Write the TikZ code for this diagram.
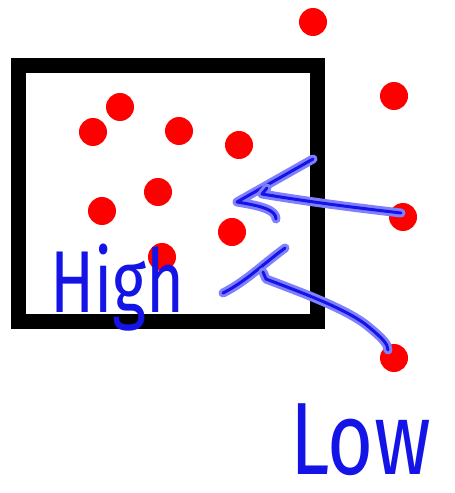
\documentclass[tikz,border=0pt]{standalone}
\usepackage{fontspec}
\newfontfamily\handfont{Fira Sans}
\usetikzlibrary{positioning}
\definecolor{pointred}{HTML}{FF0000}
\definecolor{penblue}{HTML}{1414E6}
\definecolor{penglow}{HTML}{8080FF}
\tikzset{
  point/.style={
    circle,
    fill=pointred,
    inner sep=0pt,
    minimum size=0.56cm
  },
  pen/.style={
    draw=penblue,
    line width=0.06cm,
    line cap=round,
    line join=round,
    preaction={draw=penglow,line width=0.18cm,line cap=round,line join=round}
  },
  frame/.style={draw=black,line width=0.3cm},
  handtext/.style={text=penblue,inner sep=0pt,anchor=base west,transform shape}
}

\begin{document}
\begin{tikzpicture}[x=0.02cm,y=-0.02cm]
\useasboundingbox (0,0) rectangle (455,493);
% sampling box
\draw[frame] (18.5,65.5) rectangle (317.5,321.5);
% points inside the box
\foreach \px/\py in {120/107,93/132,179/131,239/145,158/192,102/211,232/232,162/257}
  \node[point] at (\px,\py) {};
% points outside the box
\node[point] (outTop) at (313,22) {};
\node[point] (outUpper) at (394,96) {};
\node[point] (outMid) at (403,217) {};
\node[point] (outLow) at (394,358) {};
% labels
\node[handtext,font=\handfont\fontsize{50}{50}\selectfont,xscale=0.74] (high) at (50,312) {High};
\node[handtext,font=\handfont\fontsize{45}{45}\selectfont,yscale=1.3] (low) at (290,474) {Low};
% hand drawn arrows
\coordinate (tipMid) at (237,202);
\coordinate (barbMidUp) at (313,159);
\coordinate (barbMidDown) at (276,219);
\coordinate (joinMid) at (267,188);
\draw[pen] (barbMidUp) -- (tipMid) .. controls (262,206) and (276,210) .. (barbMidDown);
\draw[pen] (joinMid) -- (262,194) .. controls (310,202) and (350,207) .. ([shift={(-2,-4)}]outMid.center);
\coordinate (barbLowUp) at (285,248);
\coordinate (barbLowDown) at (223,293);
\coordinate (joinLow) at (263,272);
\draw[pen] (barbLowDown) .. controls (245,282) and (262,265) .. (barbLowUp);
\draw[pen] (joinLow) -- (266,279) .. controls (300,292) and (350,310) .. (370,328) .. controls (382,338) and (388,344) .. ([shift={(-6,-8)}]outLow.center);
\end{tikzpicture}
\end{document}
